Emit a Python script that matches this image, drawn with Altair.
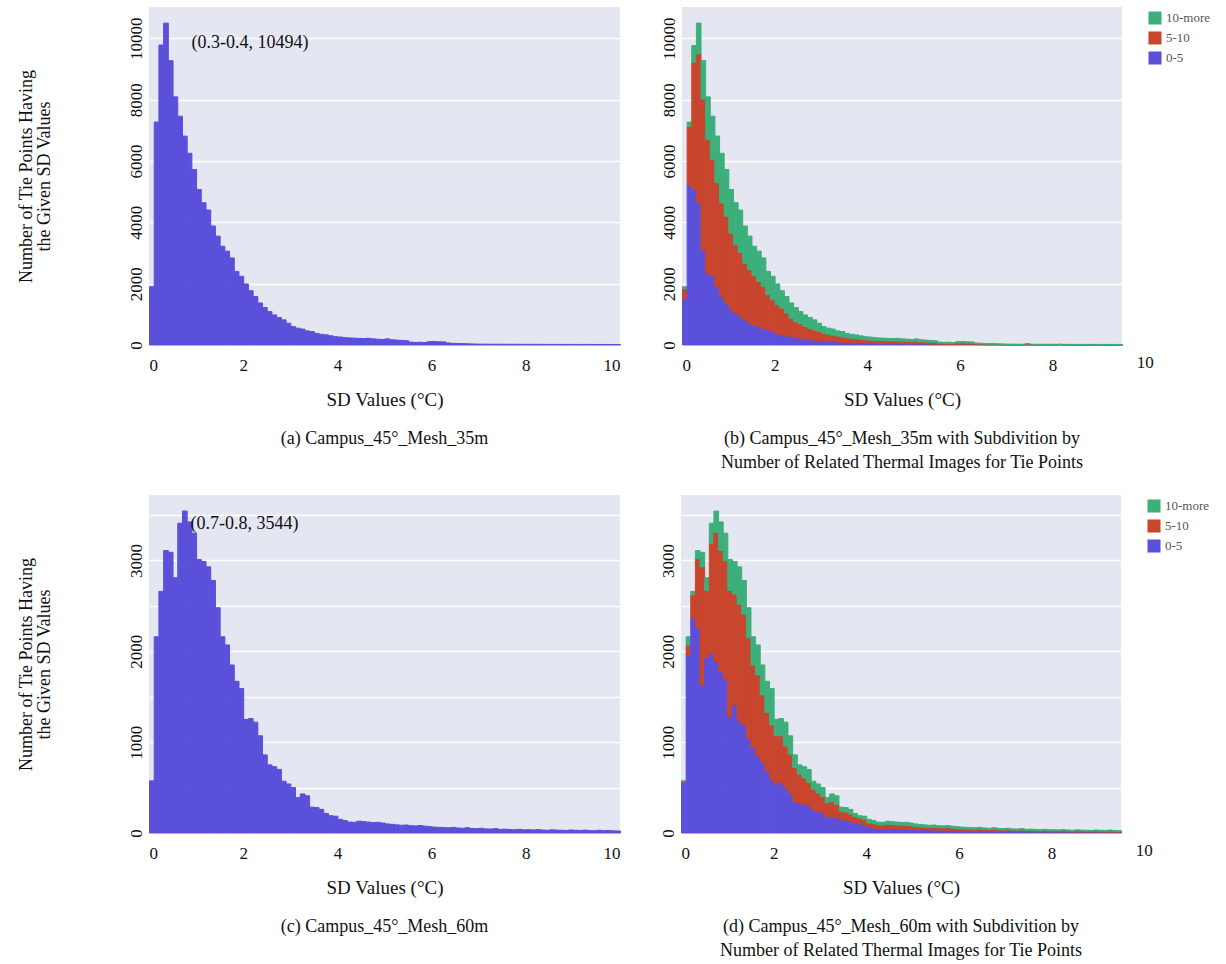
import altair as alt
import pandas as pd

FONT = "Liberation Serif"
BLUE = "#5B50DA"
RED = "#C8452E"
GREEN = "#3DAF7B"
BG = "#E4E6F1"

BIN = 0.1

# (a) Campus_45°_Mesh_35m : counts per 0.1 °C bin, 0 .. 10
a_counts = [
    1900, 7270, 9780, 10494, 9270, 8090, 7460, 6810, 6250, 5720,
    5070, 4640, 4400, 3880, 3550, 3220, 3060, 2840, 2400, 2240,
    1990, 1770, 1580, 1370, 1220, 1090, 980, 900, 820, 710,
    600, 550, 520, 460, 440, 380, 350, 330, 300, 270,
    260, 240, 230, 225, 215, 210, 220, 200, 190, 180,
    200, 170, 160, 150, 140, 95, 85, 90, 80, 110,
    115, 105, 100, 65, 55, 50, 45, 40, 35, 30,
    28, 27, 26, 25, 25, 24, 24, 23, 23, 22,
    22, 22, 21, 21, 20, 20, 20, 19, 19, 19,
    18, 18, 18, 18, 17, 17, 17, 17, 16, 16,
]

# (b) subdivision by number of related thermal images (0 .. 9.5)
b_0_5 = [
    1500, 5230, 5070, 4630, 3110, 2340, 2240, 1910, 1580, 1360,
    1170, 1040, 930, 820, 710, 650, 600, 545, 490, 440,
    360, 330, 300, 270, 250, 220, 200, 185, 160, 140,
    130, 120, 110, 100, 95, 85, 80, 75, 70, 65,
    60, 55, 50, 48, 46, 45, 47, 42, 40, 38,
    42, 36, 34, 32, 30, 20, 18, 19, 17, 23,
    24, 22, 21, 14, 12, 10, 9, 8, 7, 6,
    6, 5, 5, 5, 5, 5, 5, 5, 5, 4,
    4, 8, 4, 4, 4, 4, 4, 4, 4, 4,
    4, 4, 4, 4, 4,
]
b_5_10 = [
    330, 1890, 4150, 4860, 4910, 4370, 3810, 3380, 3050, 2840,
    2480, 2230, 2090, 1850, 1740, 1610, 1470, 1365, 1150, 1030,
    950, 870, 740, 600, 510, 470, 400, 360, 330, 300,
    250, 230, 210, 190, 175, 155, 140, 130, 115, 105,
    100, 95, 90, 88, 84, 82, 86, 78, 74, 70,
    78, 66, 62, 58, 54, 37, 33, 35, 31, 43,
    45, 41, 39, 25, 21, 20, 18, 16, 14, 12,
    11, 11, 10, 10, 30, 9, 9, 9, 9, 9,
    9, 9, 9, 9, 8, 8, 8, 8, 8, 8,
    7, 7, 7, 7, 7,
]
b_10_more = [
    70, 150, 540, 1004, 1250, 1380, 1410, 1520, 1620, 1520,
    1420, 1370, 1380, 1210, 1100, 960, 990, 930, 760, 770,
    680, 570, 540, 500, 460, 400, 380, 355, 330, 270,
    220, 200, 200, 170, 170, 140, 130, 125, 115, 100,
    100, 90, 90, 89, 85, 83, 87, 80, 76, 72,
    80, 68, 64, 60, 56, 38, 34, 36, 32, 44,
    46, 42, 40, 26, 22, 20, 18, 16, 14, 12,
    11, 11, 11, 10, 10, 10, 10, 9, 9, 9,
    9, 9, 9, 8, 8, 8, 8, 8, 7, 7,
    7, 7, 7, 7, 6,
]

# (c) Campus_45°_Mesh_60m
c_counts = [
    574, 2160, 2660, 3110, 3090, 2810, 3410, 3544, 3425, 3300,
    3010, 2990, 2930, 2780, 2480, 2160, 2070, 1850, 1670, 1590,
    1250, 1260, 1220, 1070, 860, 750, 730, 700, 570, 540,
    500, 390, 430, 410, 285, 280, 260, 215, 190, 185,
    150, 137, 120, 118, 130, 125, 120, 115, 118, 110,
    100, 95, 90, 85, 88, 80, 78, 82, 75, 70,
    65, 62, 60, 58, 62, 55, 52, 58, 50, 48,
    52, 45, 44, 48, 40, 42, 38, 36, 40, 35,
    36, 34, 38, 33, 30, 35, 32, 30, 28, 33,
    30, 28, 32, 27, 25, 30, 26, 28, 24, 22,
]

# (d) subdivision (0 .. 9.5)
d_0_5 = [
    560, 1960, 2370, 2260, 1630, 1930, 1980, 1890, 1780, 1700,
    1280, 1410, 1240, 1190, 1040, 940, 850, 780, 690, 590,
    540, 560, 500, 440, 350, 330, 315, 300, 260, 240,
    220, 180, 185, 165, 150, 140, 130, 110, 105, 90,
    60, 58, 50, 48, 52, 50, 48, 45, 46, 42,
    38, 36, 34, 32, 33, 30, 29, 31, 28, 26,
    23, 22, 21, 20, 22, 19, 18, 20, 17, 17,
    18, 16, 15, 17, 14, 15, 13, 12, 14, 12,
    13, 12, 13, 12, 10, 12, 11, 10, 10, 12,
    10, 10, 11, 9, 9,
]
d_5_10 = [
    10, 110, 250, 760, 1300, 740, 1210, 1420, 1330, 1300,
    1390, 1220, 1280, 1220, 1110, 910, 890, 740, 640, 600,
    530, 510, 460, 430, 370, 320, 290, 260, 220, 200,
    180, 150, 160, 150, 90, 90, 80, 70, 60, 60,
    50, 45, 40, 40, 44, 42, 40, 40, 40, 38,
    34, 32, 30, 29, 30, 27, 27, 28, 26, 24,
    22, 21, 20, 20, 21, 19, 18, 20, 17, 16,
    18, 15, 15, 16, 14, 14, 13, 12, 14, 12,
    12, 12, 13, 11, 10, 12, 11, 10, 9, 11,
    10, 9, 11, 9, 8,
]
d_10_more = [
    4, 90, 40, 90, 160, 140, 220, 234, 315, 300,
    340, 360, 410, 370, 330, 310, 330, 330, 340, 400,
    180, 190, 260, 200, 140, 100, 125, 140, 90, 100,
    100, 60, 85, 95, 45, 50, 50, 35, 25, 35,
    40, 34, 30, 30, 34, 33, 32, 30, 32, 30,
    28, 27, 26, 24, 25, 23, 22, 23, 21, 20,
    20, 19, 19, 18, 19, 17, 16, 18, 16, 15,
    16, 14, 14, 15, 12, 13, 12, 12, 12, 11,
    11, 10, 12, 10, 10, 11, 10, 10, 9, 10,
    10, 9, 10, 9, 8,
]

x_ticks = [0, 2, 4, 6, 8, 10]
y_ticks_35 = [0, 2000, 4000, 6000, 8000, 10000]
y_grid_60 = [0, 500, 1000, 1500, 2000, 2500, 3000, 3500]

y_title = ["Number of Tie Points Having", "the Given SD Values"]
x_title = "SD Values (°C)"
cap_a = "(a) Campus_45°_Mesh_35m"
cap_b = ["(b) Campus_45°_Mesh_35m with Subdivition by",
         "Number of Related Thermal Images for Tie Points"]
cap_c = "(c) Campus_45°_Mesh_60m"
cap_d = ["(d) Campus_45°_Mesh_60m with Subdivition by",
         "Number of Related Thermal Images for Tie Points"]

groups = ["0-5", "5-10", "10-more"]
legend_order = ["10-more", "5-10", "0-5"]

W_L, W_R, H = 471, 440, 338


def bins(n):
    starts = [round(i * BIN, 2) for i in range(n)]
    ends = [round((i + 1) * BIN, 2) for i in range(n)]
    return starts, ends


def y_axis(values, left, label_expr=None):
    kw = dict(values=values, format="d", labelAngle=270, labelAlign="center",
              labelBaseline="bottom", labelPadding=4)
    if label_expr:
        kw["labelExpr"] = label_expr
    if left:
        kw["title"] = y_title
        kw["titlePadding"] = 74
        kw["titleFontSize"] = 18
    else:
        kw["title"] = ""
    return alt.Axis(**kw)


def caption(text):
    return alt.TitleParams(text=text, orient="bottom", anchor="middle", frame="group",
                           font=FONT, fontSize=18, fontWeight="normal", color="#111",
                           offset=21, lineHeight=24)


def single(counts, ymax, yvals, label_expr, ann, ann_x, ann_y, cap):
    s, e = bins(len(counts))
    df = pd.DataFrame({"start": s, "end": e, "count": counts})
    xs = alt.Scale(domain=[0, 10], nice=False, zero=False)
    bars = alt.Chart(df).mark_bar(color=BLUE, stroke=BLUE, strokeWidth=1, opacity=1,
                                  binSpacing=0).encode(
        x=alt.X("start:Q", bin="binned", scale=xs,
                axis=alt.Axis(values=x_ticks, title=x_title, format="d")),
        x2="end:Q",
        y=alt.Y("count:Q", scale=alt.Scale(domain=[0, ymax], nice=False),
                axis=y_axis(yvals, True, label_expr)),
    )
    note = alt.Chart(pd.DataFrame({"x": [ann_x], "y": [ann_y], "t": [ann]})).mark_text(
        align="left", baseline="middle", font=FONT, fontSize=18, color="#111"
    ).encode(x="x:Q", y="y:Q", text="t:N")
    return alt.layer(bars, note).properties(width=W_L, height=H, title=caption(cap))


def stacked(blue, red, green, ymax, yvals, label_expr, cap):
    s, e = bins(len(blue))
    rows = []
    for i in range(len(blue)):
        for g, v, o in ((groups[0], blue[i], 0), (groups[1], red[i], 1), (groups[2], green[i], 2)):
            rows.append({"start": s[i], "end": e[i], "count": v, "group": g, "ord": o})
    df = pd.DataFrame(rows)
    xs = alt.Scale(domain=[0, 9.5], nice=False, zero=False)
    cs = alt.Scale(domain=legend_order, range=[GREEN, RED, BLUE])
    bars = alt.Chart(df).mark_bar(strokeWidth=1, opacity=1, binSpacing=0).encode(
        x=alt.X("start:Q", bin="binned", scale=xs,
                axis=alt.Axis(values=x_ticks[:-1], title=x_title, format="d")),
        x2="end:Q",
        y=alt.Y("count:Q", stack="zero", scale=alt.Scale(domain=[0, ymax], nice=False),
                axis=y_axis(yvals, False, label_expr)),
        color=alt.Color("group:N", scale=cs,
                        legend=alt.Legend(title=None, orient="right", offset=22,
                                          symbolType="square", symbolSize=170,
                                          symbolStrokeWidth=0, labelFont=FONT,
                                          labelFontSize=13, labelColor="#555",
                                          rowPadding=6, padding=4)),
        stroke=alt.Stroke("group:N", scale=cs, legend=None),
        order=alt.Order("ord:Q", sort="ascending"),
    )
    ten = alt.Chart(pd.DataFrame({"x": [10], "t": ["10"]})).mark_text(
        baseline="top", font=FONT, fontSize=17, color="#111"
    ).encode(x="x:Q", y=alt.value(H + 10), text="t:N")
    return alt.layer(bars, ten).properties(width=W_R, height=H, title=caption(cap))


pa = single(a_counts, 11020, y_ticks_35, None, "(0.3-0.4, 10494)", 0.9, 9850, cap_a)
pb = stacked(b_0_5, b_5_10, b_10_more, 11020, y_ticks_35, None, cap_b)
pc = single(c_counts, 3721, y_grid_60, "datum.value % 1000 == 0 ? datum.label : ''",
            "(0.7-0.8, 3544)", 0.88, 3400, cap_c)
pd_ = stacked(d_0_5, d_5_10, d_10_more, 3721, y_grid_60,
              "datum.value % 1000 == 0 ? datum.label : ''", cap_d)

row1 = alt.hconcat(pa, pb, spacing=38).resolve_scale(color="independent", stroke="independent")
row2 = alt.hconcat(pc, pd_, spacing=38).resolve_scale(color="independent", stroke="independent")

chart = alt.vconcat(row1, row2, spacing=23).resolve_scale(
    color="independent", stroke="independent"
).properties(
    padding={"left": 17, "top": 7, "right": 5, "bottom": 5},
    background="white",
).configure_view(
    fill=BG, stroke=None
).configure_axis(
    grid=True, gridColor="white", gridWidth=1.6, domain=False, ticks=False,
    labelFont=FONT, labelFontSize=17, labelColor="#111",
    titleFont=FONT, titleFontSize=19, titleFontWeight="normal", titleColor="#111",
    titleLineHeight=18,
).configure_axisX(
    grid=False, labelPadding=12, titlePadding=17,
)

chart.save("out.html", embed_options={"renderer": "svg", "actions": False})
